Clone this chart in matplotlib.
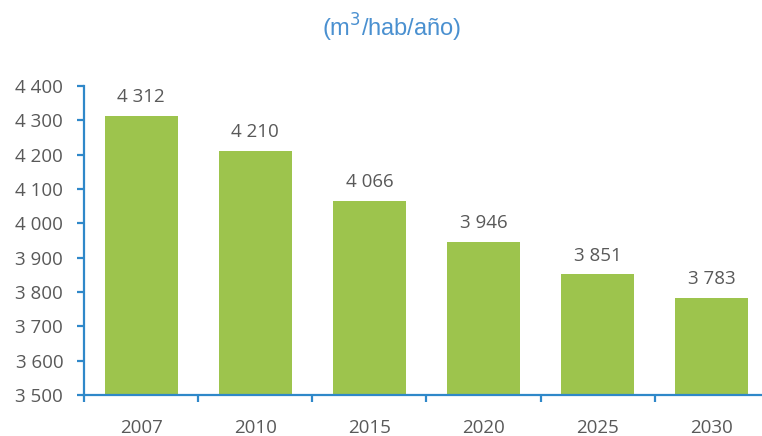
import matplotlib
matplotlib.use("Agg")
import matplotlib.pyplot as plt
from matplotlib.ticker import FuncFormatter, FixedLocator

years = ["2007", "2010", "2015", "2020", "2025", "2030"]
values = [4312, 4210, 4066, 3946, 3851, 3783]
yticks = [3500, 3600, 3700, 3800, 3900, 4000, 4100, 4200, 4300, 4400]
title = "(m$^3$/hab/año)"

axis_color = "#2f88c9"
text_color = "#595959"
bar_color = "#9dc44d"

fig = plt.figure(figsize=(7.62, 4.36), dpi=100)
ax = fig.add_axes([84 / 762, 0.094, 685 / 762, 0.709])

x = list(range(len(years)))
ax.bar(x, values, width=0.64, color=bar_color, zorder=2)
ax.set_ylim(3500, 4400)
ax.set_xlim(-0.5, len(years) - 0.5)

def fmt(v, pos=None):
    return f"{int(v):,}".replace(",", " ")

ax.set_yticks(yticks)
ax.yaxis.set_major_formatter(FuncFormatter(fmt))
ax.set_xticks(x)
ax.set_xticklabels(years)
ax.xaxis.set_minor_locator(FixedLocator([i + 0.5 for i in range(len(years) - 1)] + [-0.5]))

for s in ["top", "right"]:
    ax.spines[s].set_visible(False)
for s in ["left", "bottom"]:
    ax.spines[s].set_color(axis_color)
    ax.spines[s].set_linewidth(1.6)

font = "Open Sans"
ax.tick_params(axis="y", colors=axis_color, labelcolor=text_color, length=5, width=1.6,
               labelsize=13.5, pad=10)
ax.tick_params(axis="x", which="major", length=0, labelcolor=text_color, labelsize=13.5, pad=17)
ax.tick_params(axis="x", which="minor", length=5, width=1.6, color=axis_color)
for lab in ax.get_xticklabels() + ax.get_yticklabels():
    lab.set_fontfamily(font)

for xi, v in zip(x, values):
    ax.annotate(fmt(v), (xi, v), xytext=(0, 7), textcoords="offset points",
                ha="center", va="bottom", fontsize=13.5, color=text_color, family=font)

fig.text(392 / 762, 1 - 28 / 436, title, ha="center", va="center", fontsize=17,
         color="#4a90d0", family="Liberation Sans")

fig.savefig("out.png", dpi=100)
